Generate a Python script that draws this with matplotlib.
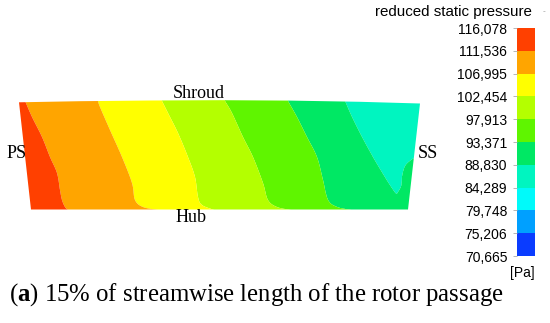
import numpy as np
import matplotlib
matplotlib.use("Agg")
import matplotlib.pyplot as plt
from matplotlib.colors import ListedColormap, BoundaryNorm
from matplotlib.patches import Polygon
from matplotlib.cm import ScalarMappable

plt.rcParams['mathtext.fontset'] = 'custom'
plt.rcParams['mathtext.bf'] = 'Liberation Serif:bold'
plt.rcParams['mathtext.rm'] = 'Liberation Serif'

# contour levels [Pa] and band colours (low -> high)
levels = [70665, 75206, 79748, 84289, 88830, 93371, 97913, 102454, 106995, 111536, 116078]
level_labels = ["70,665", "75,206", "79,748", "84,289", "88,830", "93,371",
                "97,913", "102,454", "106,995", "111,536", "116,078"]
band_colors = ["#0A3CFF", "#00A0FF", "#00FAFA", "#00F5C0", "#00E864",
               "#5FF500", "#B4FF00", "#FFFF00", "#FFA500", "#FF4000"]

# passage outline (image px)
passage_top_x = [19, 80, 150, 220, 290, 360, 420]
passage_top_y = [102.3, 101.2, 100.5, 100.2, 100.6, 101.8, 103.5]
passage_bot_x = [408, 31]
passage_bot_y = [209.5, 209.5]

# isobar positions, PS -> SS (x at given y)
iso_y1 = [101, 117, 137, 157, 173, 190, 200, 207, 210]
iso_red_orange = [25, 32, 42, 50, 57, 60, 62, 65, 68]
iso_y2 = [101, 107, 130, 157, 183, 200, 207, 210]
iso_orange_yellow = [98, 100, 110, 122, 132, 135, 143, 158]
iso_y3 = [101, 113, 133, 157, 177, 197, 205, 210]
iso_yellow_lime = [162, 168, 178, 188, 195, 198, 202, 214]
iso_y4 = [101, 113, 137, 157, 183, 200, 207, 210]
iso_lime_green = [225, 232, 243, 253, 263, 268, 277, 291]
iso_y5 = [101, 117, 137, 157, 180, 200, 207, 210]
iso_green_green2 = [288, 297, 307, 317, 323, 328, 337, 351]
# aqua tongue on the SS side
aqua_left_y = [101, 117, 137, 157, 177, 188, 194]
aqua_left_x = [345, 352, 362, 373, 385, 392, 396.5]
aqua_right_y = [156, 160, 166, 176, 186, 194]
aqua_right_x = [418, 411, 405, 402, 401, 396.5]


def smooth(ys, xs, n=12):
    # catmull-rom through the read points, y kept monotone
    p = np.column_stack([ys, xs]).astype(float)
    p = np.vstack([2 * p[0] - p[1], p, 2 * p[-1] - p[-2]])
    out = []
    t = np.linspace(0, 1, n, endpoint=False)[:, None]
    for k in range(1, len(p) - 2):
        p0, p1, p2, p3 = p[k - 1], p[k], p[k + 1], p[k + 2]
        out.append(0.5 * (2 * p1 + (-p0 + p2) * t + (2 * p0 - 5 * p1 + 4 * p2 - p3) * t ** 2
                          + (-p0 + 3 * p1 - 3 * p2 + p3) * t ** 3))
    out.append(p[-2][None, :])
    out = np.vstack(out)
    return np.maximum.accumulate(out[:, 0]), out[:, 1]


isobars = [smooth(iso_y1, iso_red_orange), smooth(iso_y2, iso_orange_yellow),
           smooth(iso_y3, iso_yellow_lime), smooth(iso_y4, iso_lime_green),
           smooth(iso_y5, iso_green_green2)]
iso_vals = [111536, 106995, 102454, 97913, 93371]
aq_l = smooth(aqua_left_y, aqua_left_x)
aq_r = smooth(aqua_right_y, aqua_right_x)

xs = np.arange(15, 426, 0.5)
ys = np.arange(98, 212.5, 0.5)
P = np.zeros((len(ys), len(xs)))
for i, y in enumerate(ys):
    xp = [10]
    fp = [114000]
    for (by, bx), v in zip(isobars, iso_vals):
        xp.append(np.interp(y, by, bx))
        fp.append(v)
    if y < 194:
        xl = np.interp(y, *aq_l)
        if y < 156:
            xp += [xl, 430]
            fp += [88830, 86000]
        else:
            xr = np.interp(y, *aq_r)
            xp += [xl, (xl + xr) / 2, xr, 430]
            fp += [88830, 86000, 88830, 91000]
    else:
        xp.append(430)
        fp.append(91000)
    P[i] = np.interp(xs, xp, fp)

cmap = ListedColormap(band_colors)
norm = BoundaryNorm(levels, cmap.N)

fig = plt.figure(figsize=(5.5, 3.23), dpi=100)
ax = fig.add_axes([0, 0, 1, 1])
ax.set_xlim(0, 550)
ax.set_ylim(323, 0)
ax.axis('off')

cs = ax.contourf(xs, ys, P, levels=levels, cmap=cmap, norm=norm, antialiased=True)
outline = Polygon(np.column_stack([passage_top_x + passage_bot_x, passage_top_y + passage_bot_y]),
                  closed=True, transform=ax.transData)
cs.set_clip_path(outline)

serif = 'Liberation Serif'
ax.text(199, 93, "Shroud", family=serif, fontsize=13, ha='center', va='center')
ax.text(191, 218, "Hub", family=serif, fontsize=13, ha='center', va='center')
ax.text(17, 153, "PS", family=serif, fontsize=13, ha='center', va='center')
ax.text(428, 153, "SS", family=serif, fontsize=13, ha='center', va='center')
ax.text(9, 295, r"($\mathbf{a}$) 15% of streamwise length of the rotor passage",
        family=serif, fontsize=17.8, ha='left', va='center')

sans = 'Liberation Sans'
ax.text(532, 12, "reduced static pressure", family=sans, fontsize=10.9, ha='right', va='center')
ax.text(544, 12, "-", family=sans, fontsize=6, ha='center', va='center', color='#999999')
ax.text(535, 273, "[Pa]", family=sans, fontsize=10, ha='right', va='center')

cax = fig.add_axes([517 / 550, 1 - 256 / 323, 18 / 550, 228 / 323])
cb = fig.colorbar(ScalarMappable(norm=norm, cmap=cmap), cax=cax, ticks=levels)
cb.outline.set_visible(False)
cax.yaxis.set_ticks_position('left')
cax.set_yticklabels(level_labels, family=sans, fontsize=10)
cax.tick_params(axis='y', length=3, width=0.6, color='#aaaaaa', pad=4)

fig.savefig("out.png", dpi=100)
